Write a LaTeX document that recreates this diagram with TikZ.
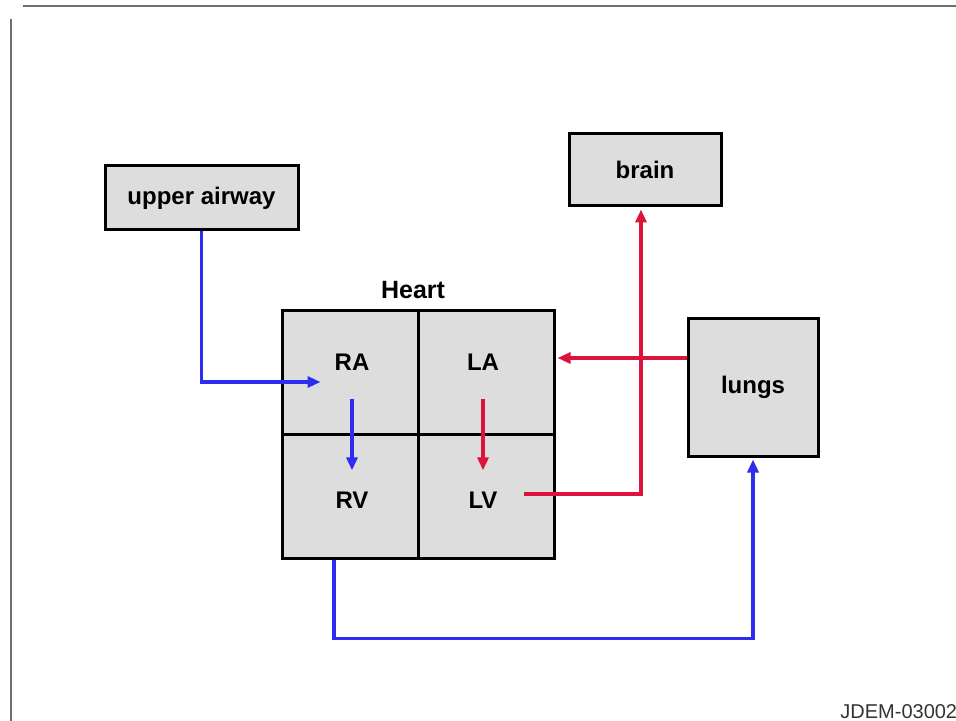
\documentclass[tikz,border=0pt]{standalone}
\usepackage{fontspec}
\setmainfont{Liberation Sans}
\usepackage{xcolor}
\definecolor{flowblue}{RGB}{45,45,240}
\definecolor{flowred}{RGB}{220,20,60}
\definecolor{boxgray}{RGB}{221,221,221}
\definecolor{framegray}{RGB}{110,110,110}
\usetikzlibrary{arrows.meta, positioning, calc}

\tikzset{
  organ/.style={draw=black, line width=1.5pt, fill=boxgray, inner sep=0pt,
                font=\fontsize{12}{14}\selectfont\bfseries},
  cell/.style={draw=black, line width=1.5pt, fill=boxgray, inner sep=0pt,
               minimum width=68pt, minimum height=62pt},
  chamber/.style={inner sep=0pt, font=\fontsize{12}{14}\selectfont\bfseries},
  bluearrow/.style={flowblue, line width=1.6pt, -{Triangle[length=6.5pt,width=5.5pt]}},
  redarrow/.style={flowred, line width=1.6pt, -{Triangle[length=6.5pt,width=5.5pt]}}
}

\begin{document}
\begin{tikzpicture}[x=0.5pt, y=-0.5pt]

\useasboundingbox (0,0) rectangle (956,721);
\clip (0,0) rectangle (956,721);

% ===== Page frame =====
\draw[framegray, line width=0.8pt] (23,6) -- (956,6);
\draw[framegray, line width=0.8pt] (11,19) -- (11,721);

% ===== Outer organs =====
\node[organ, minimum width=96.5pt, minimum height=32pt] (ua) at (201.5,198) {upper airway};
\node[organ, minimum width=76pt, minimum height=36pt] (brain) at (645,170) {brain};
\node[organ, minimum width=65pt, minimum height=69pt] (lungs) at (753,387) {lungs};

% ===== Heart =====
\node[font=\fontsize{12.5}{14}\selectfont\bfseries] (heart) at (413,290) {Heart};
\node[cell] (ra) at (350,372) {};
\node[cell] (la) at (486,372) {};
\node[cell] (rv) at (350,496) {};
\node[cell] (lv) at (486,496) {};

\node[chamber] (RA) at (352,362) {RA};
\node[chamber] (LA) at (483,362) {LA};
\node[chamber] (RV) at (352,500) {RV};
\node[chamber] (LV) at (483,500) {LV};

% Ports on the heart
\coordinate (raIn) at ([xshift=20pt, yshift=-5pt]ra.west);
\coordinate (laIn) at ([xshift=1pt, yshift=7pt]la.east);
\coordinate (lvOut) at ([xshift=-16pt, yshift=1pt]lv.east);
\coordinate (rvOut) at ([xshift=-8pt]rv.south);

% ===== Venous flow (blue) =====
\draw[bluearrow] (ua.south) |- (raIn);
\draw[bluearrow, shorten <=14pt, shorten >=10.5pt] (RA.south) -- (RV.north);
\draw[bluearrow] (rvOut) -- ++(0,79) -| ([yshift=-1pt]lungs.south);

% ===== Arterial flow (red) =====
\draw[redarrow] (lungs.west |- laIn) -- (laIn);
\draw[redarrow, shorten <=14pt, shorten >=10.5pt] (LA.south) -- (LV.north);
\draw[redarrow] (lvOut) -| ([xshift=-2pt, yshift=-1pt]brain.south);

% Figure id
\node[anchor=west, inner sep=0pt, text=black!80, font=\fontsize{10}{11}\selectfont] (figid) at (840,712) {JDEM-030022};

\end{tikzpicture}
\end{document}
